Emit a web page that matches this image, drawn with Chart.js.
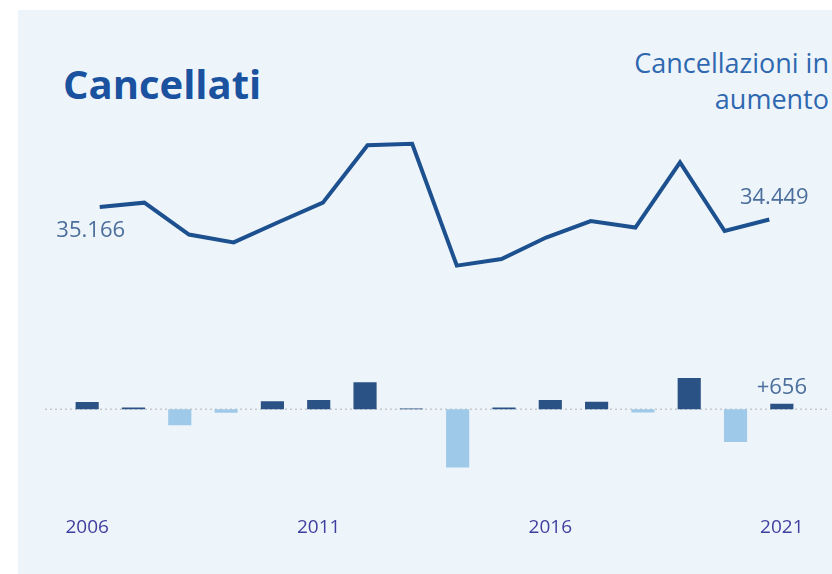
<!DOCTYPE html>
<html lang="it">
<head>
<meta charset="utf-8">
<script src="https://cdn.jsdelivr.net/npm/chart.js@4.4.1/dist/chart.umd.min.js"></script>
<style>
  html, body { margin: 0; padding: 0; background: #fff; }
  #wrap { position: relative; width: 832px; height: 574px; overflow: hidden; }
  #panel { position: absolute; left: 18px; top: 10px; right: 0; bottom: 0; background: #eef5fa; }
  #title { position: absolute; left: 63px; top: 56px; font: 700 40px "Open Sans", sans-serif; color: #1a52a0; }
  #note { position: absolute; right: 3px; top: 45px; font: 400 27px/36px "Open Sans", sans-serif; color: #2f68b0; text-align: right; }
  #chart { position: absolute; left: 0; top: 0; }
</style>
</head>
<body>
<div id="wrap">
  <div id="panel"></div>
  <div id="title">Cancellati</div>
  <div id="note">Cancellazioni in<br>aumento</div>
  <canvas id="chart" width="832" height="574"></canvas>
</div>
<script>
const years = [2006, 2007, 2008, 2009, 2010, 2011, 2012, 2013, 2014, 2015, 2016, 2017, 2018, 2019, 2020, 2021];
// cancellati per anno
const cancellati = [35166, 35407, 33594, 33149, 34295, 35407, 38667, 38753, 31827, 32198, 33423, 34364, 33993, 37698, 33793, 34449];
// variazione rispetto all'anno prima
const variazione = [850, 200, -1900, -400, 950, 1100, 3200, 90, -6900, 200, 1100, 900, -380, 3700, -3900, 656];
const tickYears = [2006, 2011, 2016, 2021];

const fmt = (n) => String(Math.abs(n)).replace(/\B(?=(\d{3})+(?!\d))/g, ".");

const labelFont = '22px "Open Sans", sans-serif';

new Chart(document.getElementById("chart"), {
  data: {
    labels: years.map(String),
    datasets: [
      {
        type: "line",
        data: years.map((y, i) => ({ x: y, y: cancellati[i] })),
        xAxisID: "xLine",
        yAxisID: "y",
        borderColor: "#1d508f",
        borderWidth: 4,
        pointRadius: 0,
        tension: 0,
      },
      {
        type: "bar",
        data: variazione,
        xAxisID: "x",
        yAxisID: "yBar",
        grouped: false,
        backgroundColor: variazione.map((v) => (v >= 0 ? "#2b5285" : "#9fc9e9")),
        barPercentage: 0.5,
        categoryPercentage: 1,
      },
    ],
  },
  options: {
    responsive: false,
    animation: false,
    layout: { padding: { left: 64, right: 27, top: 10, bottom: 33.4 } },
    plugins: { legend: { display: false }, tooltip: { enabled: false } },
    scales: {
      x: {
        type: "category",
        offset: true,
        grid: { display: false },
        border: { display: false },
        ticks: {
          autoSkip: false,
          maxRotation: 0,
          padding: 2,
          color: "#3f3f9f",
          font: { family: "Open Sans", size: 19 },
          callback(value, index) {
            const lab = this.getLabelForValue(value);
            return tickYears.includes(Number(lab)) ? lab : "";
          },
        },
      },
      xLine: { type: "linear", display: false, min: 2005.2, max: 2021.8 },
      y: { display: false, min: 18170, max: 46362 },
      yBar: { display: false, min: -11460, max: 47398 },
    },
  },
  plugins: [
    {
      id: "zeroLine",
      beforeDatasetsDraw(chart) {
        const ctx = chart.ctx;
        const y0 = chart.scales.yBar.getPixelForValue(0);
        ctx.save();
        ctx.strokeStyle = "#c4c8cc";
        ctx.lineWidth = 1.5;
        ctx.setLineDash([2, 3]);
        ctx.beginPath();
        ctx.moveTo(chart.chartArea.left - 19, y0);
        ctx.lineTo(chart.chartArea.right + 22, y0);
        ctx.stroke();
        ctx.restore();
      },
    },
    {
      id: "valueLabels",
      afterDatasetsDraw(chart) {
        const ctx = chart.ctx;
        const line = chart.getDatasetMeta(0).data;
        const bars = chart.getDatasetMeta(1).data;
        const last = years.length - 1;
        ctx.save();
        ctx.font = labelFont;
        ctx.fillStyle = "#4b6e9c";
        ctx.textAlign = "center";
        ctx.textBaseline = "middle";
        ctx.fillText(fmt(cancellati[0]), line[0].x - 9, line[0].y + 24);
        ctx.fillText(fmt(cancellati[last]), line[last].x + 5, line[last].y - 22);
        const d = variazione[last];
        ctx.fillText((d >= 0 ? "+" : "-") + fmt(d), bars[last].x, bars[last].y - 16);
        ctx.restore();
      },
    },
  ],
});
</script>
</body>
</html>
